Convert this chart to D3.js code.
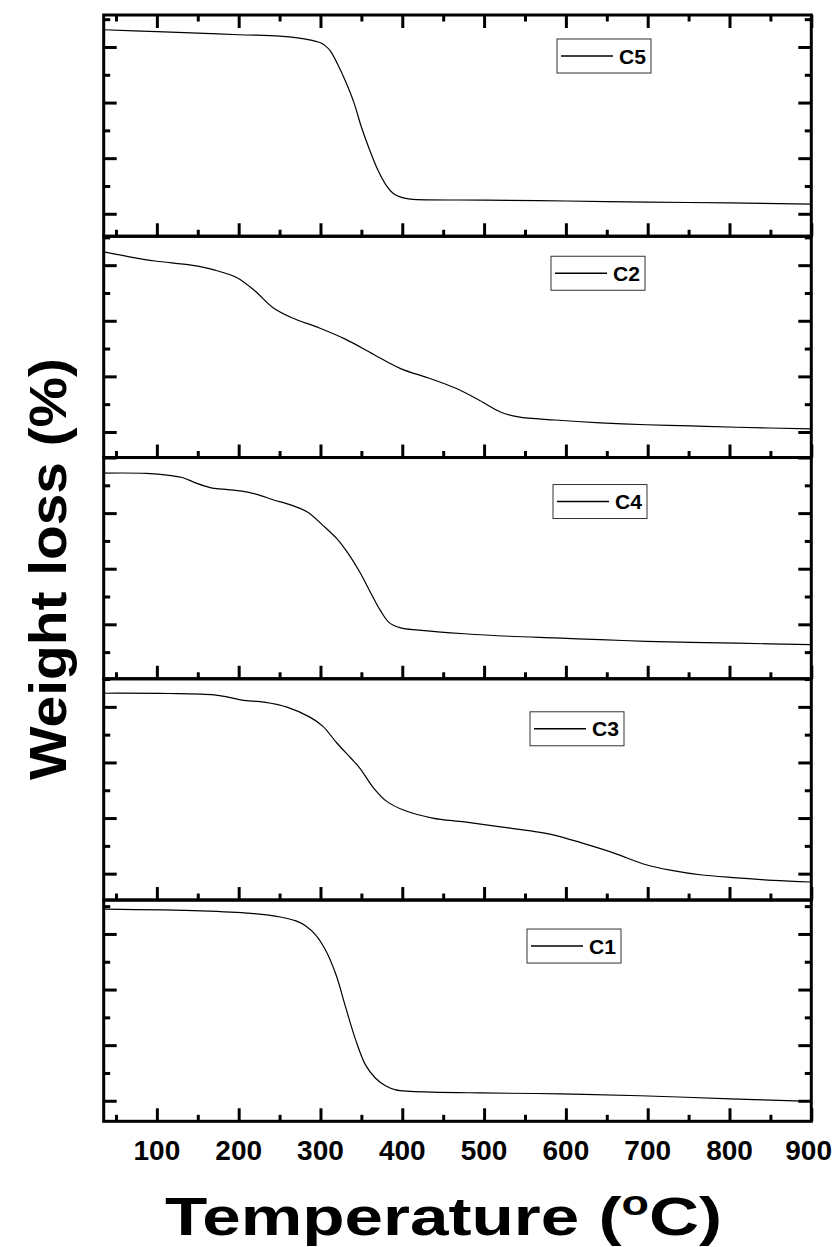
<!DOCTYPE html>
<html>
<head>
<meta charset="utf-8">
<script src="https://d3js.org/d3.v7.min.js"></script>
<style>
    body { margin: 0; background: #fff; }
    svg text { font-family: "Liberation Sans", Arial, Helvetica, sans-serif; font-weight: bold; fill: #000; }
</style>
</head>
<body>
<svg id="tga_svg" width="837" height="1247"></svg>
<script>
// curves: temperature (°C) and weight (%)
const c5_temp = [35, 100, 150, 200, 250, 272, 282, 292, 300, 306, 312, 321, 331, 341, 350, 360, 370, 380, 389, 399, 410, 500, 600, 700, 800, 900];
const c5_wt = [106.2, 105.5, 105.0, 104.4, 103.9, 103.3, 102.8, 102.2, 101.5, 100.4, 98.6, 93.8, 87.4, 79.9, 71.2, 63.0, 55.8, 50.4, 47.3, 45.9, 45.3, 44.9, 44.6, 44.2, 43.9, 43.5];

const c2_temp = [35, 65, 98, 142, 170, 198, 220, 242, 265, 298, 331, 365, 398, 431, 464, 492, 520, 542, 587, 642, 698, 753, 809, 900];
const c2_wt = [104.8, 103.1, 101.5, 100.0, 98.3, 95.5, 90.7, 84.7, 81.1, 77.5, 73.3, 67.9, 62.8, 59.5, 55.9, 51.8, 47.2, 45.4, 44.3, 43.3, 42.6, 42.2, 41.7, 41.1];

const c4_temp = [35, 87, 115, 131, 148, 165, 181, 204, 226, 242, 265, 284, 303, 320, 334, 348, 362, 373, 384, 398, 420, 476, 531, 587, 642, 698, 753, 809, 900];
const c4_wt = [94.4, 94.3, 93.6, 92.8, 90.8, 89.2, 88.6, 87.9, 86.4, 84.8, 82.8, 80.4, 75.6, 70.8, 65.4, 58.8, 51.0, 45.1, 40.6, 38.7, 37.9, 36.6, 35.7, 35.1, 34.5, 33.9, 33.5, 33.2, 32.7];

const c3_temp = [35, 115, 170, 187, 204, 231, 259, 287, 303, 320, 337, 348, 365, 381, 403, 437, 476, 520, 559, 587, 620, 659, 698, 731, 764, 809, 853, 900];
const c3_wt = [104.9, 104.8, 104.3, 103.5, 102.4, 101.7, 99.9, 96.3, 93.0, 87.0, 81.6, 78.0, 70.8, 66.0, 62.7, 60.0, 58.6, 56.8, 55.3, 53.8, 51.0, 47.4, 43.2, 41.1, 39.6, 38.5, 37.6, 37.0];

const c1_temp = [35, 154, 215, 251, 270, 282, 294, 306, 319, 331, 343, 355, 367, 380, 392, 410, 496, 593, 691, 801, 900];
const c1_wt = [108.9, 108.3, 107.4, 106.1, 104.7, 102.9, 99.7, 94.3, 85.3, 73.4, 61.9, 52.9, 48.2, 45.3, 43.9, 43.4, 42.8, 42.5, 41.8, 40.7, 39.8];

const panel_names = ["C5", "C2", "C4", "C3", "C1"]; // top to bottom
const panel_wt_top = [111.5, 110.4, 100.0, 110.1, 112.2]; // weight at top edge of each panel (axis unlabeled)

const x_domain = [35, 900];
const x_major = [100, 200, 300, 400, 500, 600, 700, 800, 900];
const x_minor = [50, 150, 250, 350, 450, 550, 650, 750, 850];
const x_labels = ["100", "200", "300", "400", "500", "600", "700", "800", "900"];

// layout (px)
const gv_left = 103.7, gv_right = 811.3, gv_top = 15, gv_bottom = 1121.3;
const gv_ph = (gv_bottom - gv_top) / 5; // panel height
const gv_unit = 2.78; // px per 1 % weight
const legend_pos = [[557, 24], [551, 20], [553, 27], [530, 33], [527, 29]]; // box corner inside each panel

var g_series = [
    { temp: c5_temp, wt: c5_wt },
    { temp: c2_temp, wt: c2_wt },
    { temp: c4_temp, wt: c4_wt },
    { temp: c3_temp, wt: c3_wt },
    { temp: c1_temp, wt: c1_wt }
];

var g_svg = d3.select("#tga_svg");
var g_x = d3.scaleLinear().domain(x_domain).range([gv_left, gv_right]);

panel_names.forEach(function (name, i) { draw_panel(i); });
draw_titles();

function draw_panel(i) {
    var top = gv_top + i * gv_ph;
    var hi = panel_wt_top[i], lo = hi - gv_ph / gv_unit;
    var y = d3.scaleLinear().domain([lo, hi]).range([top + gv_ph, top]);
    var g = g_svg.append("g").classed("panel", true);

    // curve
    var pts = g_series[i].temp.map((t, k) => [t, g_series[i].wt[k]]);
    var line = d3.line().x(d => g_x(d[0])).y(d => y(d[1])).curve(d3.curveCatmullRom.alpha(0.5));
    g.append("path").datum(pts)
        .attr("d", line)
        .attr("style", "fill:none; stroke:#000; stroke-width:1.2");

    // y ticks (inward, both sides)
    var yt = d3.range(Math.ceil(lo / 10) * 10, hi + 0.01, 10);
    var y_major = yt.filter(v => Math.round(v) % 20 == 0);
    var y_minor = yt.filter(v => Math.round(v) % 20 != 0);
    add_axis(g, d3.axisLeft(y).tickValues(y_major).tickSize(-13), "translate(" + gv_left + ",0)");
    add_axis(g, d3.axisLeft(y).tickValues(y_minor).tickSize(-6.5), "translate(" + gv_left + ",0)");
    add_axis(g, d3.axisRight(y).tickValues(y_major).tickSize(-13), "translate(" + gv_right + ",0)");
    add_axis(g, d3.axisRight(y).tickValues(y_minor).tickSize(-6.5), "translate(" + gv_right + ",0)");

    // x ticks at panel bottom, and on top of the first panel
    add_axis(g, d3.axisBottom(g_x).tickValues(x_major).tickSize(-13), "translate(0," + (top + gv_ph) + ")");
    add_axis(g, d3.axisBottom(g_x).tickValues(x_minor).tickSize(-6.5), "translate(0," + (top + gv_ph) + ")");
    if (i == 0) {
        add_axis(g, d3.axisTop(g_x).tickValues(x_major).tickSize(-13), "translate(0," + top + ")");
        add_axis(g, d3.axisTop(g_x).tickValues(x_minor).tickSize(-6.5), "translate(0," + top + ")");
    }

    // frame
    g.append("rect")
        .attr("x", gv_left).attr("y", top)
        .attr("width", gv_right - gv_left).attr("height", gv_ph)
        .attr("style", "fill:none; stroke:#000; stroke-width:3");

    // legend
    var lx = legend_pos[i][0], ly = top + legend_pos[i][1];
    var lg = g.append("g").classed("legend", true);
    lg.append("rect").attr("x", lx).attr("y", ly).attr("width", 94).attr("height", 34)
        .attr("style", "fill:#fff; stroke:#333; stroke-width:1");
    lg.append("line").attr("x1", lx + 4).attr("x2", lx + 56).attr("y1", ly + 17).attr("y2", ly + 17)
        .attr("style", "stroke:#000; stroke-width:1.6");
    lg.append("text").attr("x", lx + 62).attr("y", ly + 24.5).style("font-size", "20.5px")
        .attr("textLength", 27).attr("lengthAdjust", "spacingAndGlyphs")
        .text(panel_names[i]);

    // tick labels under the last panel (last one kept inside the page edge)
    if (i == panel_names.length - 1) {
        var n = x_major.length;
        g.selectAll(".x_label").data(x_major).join("text").classed("x_label", true)
            .attr("x", (d, k) => k == n - 1 ? 832 : g_x(d)).attr("y", top + gv_ph + 39)
            .attr("text-anchor", (d, k) => k == n - 1 ? "end" : "middle").style("font-size", "28px")
            .text((d, k) => x_labels[k]);
    }
}

function add_axis(p_g, p_axis, p_transform) {
    var ax = p_g.append("g").attr("transform", p_transform).call(p_axis.tickFormat(""));
    ax.select(".domain").remove();
    ax.selectAll(".tick line").attr("stroke", "#000").attr("stroke-width", 3);
    return ax;
}

function draw_titles() {
    // x title with superscript o
    var xt = g_svg.append("text")
        .attr("x", 443.5).attr("y", 1235)
        .attr("text-anchor", "middle").style("font-size", "54px")
        .attr("textLength", 557).attr("lengthAdjust", "spacingAndGlyphs");
    xt.append("tspan").text("Temperature (");
    xt.append("tspan").attr("dy", -20).style("font-size", "35px").text("o");
    xt.append("tspan").attr("dy", 20).text("C)");

    // y title
    g_svg.append("text")
        .attr("transform", "translate(66," + 569 + ") rotate(-90)")
        .attr("text-anchor", "middle").style("font-size", "52px")
        .attr("textLength", 422).attr("lengthAdjust", "spacingAndGlyphs")
        .text("Weight loss (%)");
}
</script>
</body>
</html>
